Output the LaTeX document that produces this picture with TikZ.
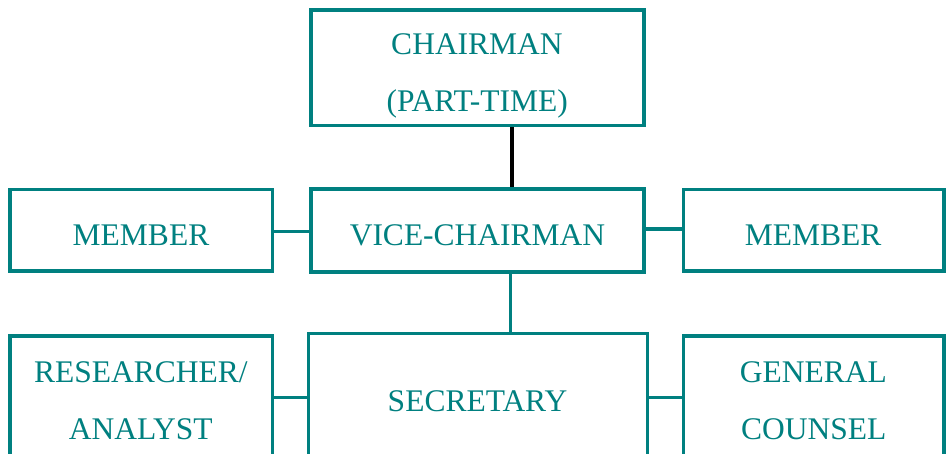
\documentclass[tikz,border=0pt]{standalone}
\usepackage{fontspec}
\setmainfont{Liberation Serif}
\definecolor{teal1}{HTML}{008080}
\begin{document}
\begin{tikzpicture}[x=1pt,y=-1pt,
  box/.style={draw=teal1, line width=3.6pt, rectangle, inner sep=0pt},
  lbl/.style={text=teal1, anchor=base, inner sep=0pt, font=\fontsize{31.5}{31.5}\selectfont},
  tealline/.style={draw=teal1, line width=3.6pt},
  blackline/.style={draw=black, line width=3.6pt}]
\useasboundingbox (0,0) rectangle (950,454);
\clip (0,0) rectangle (950,454);
\fill[white] (0,0) rectangle (950,454);
% boxes
\node[box, minimum width=333pt, minimum height=115.4pt] (chair) at (477.5,68) {};
\node[box, minimum width=333pt, minimum height=83pt] (vice) at (477.5,230.8) {};
\node[box, minimum width=262.7pt, minimum height=81.7pt] (mleft) at (141.3,230.2) {};
\node[box, minimum width=260.7pt, minimum height=81.7pt] (mright) at (813.7,230.2) {};
\node[box, minimum width=262.7pt, minimum height=144pt] (res) at (141.3,408) {};
\node[box, minimum width=339pt, minimum height=146.7pt] (sec) at (477.8,406.7) {};
\node[box, minimum width=260.7pt, minimum height=144pt] (coun) at (813.7,408) {};
% texts
\node[lbl] (t1) at (477,55) {CHAIRMAN};
\node[lbl] (t2) at (477.2,111.7) {(PART-TIME)};
\node[lbl] (t3) at (477.5,245.7) {VICE-CHAIRMAN};
\node[lbl] (t4) at (141,245.7) {MEMBER};
\node[lbl] (t5) at (813,245.3) {MEMBER};
\node[lbl] (t6) at (140.8,382.7) {RESEARCHER/};
\node[lbl] (t7) at (140.8,439) {ANALYST};
\node[lbl] (t8) at (477.5,411.7) {SECRETARY};
\node[lbl] (t9) at (813.3,382.7) {GENERAL};
\node[lbl] (t10) at (813.7,439) {COUNSEL};
% connectors
\coordinate (cx1) at (512,0);
\coordinate (cx2) at (510.3,0);
\coordinate (cy1) at (0,231.7);
\coordinate (cy2) at (0,229.3);
\coordinate (cy3) at (0,397.3);
\draw[blackline] (chair.south -| cx1) -- (vice.north -| cx1);
\draw[tealline] (vice.south -| cx2) -- (sec.north -| cx2);
\draw[tealline] (mleft.east |- cy1) -- (vice.west |- cy1);
\draw[tealline] (vice.east |- cy2) -- (mright.west |- cy2);
\draw[tealline] (res.east |- cy3) -- (sec.west |- cy3);
\draw[tealline] (sec.east |- cy3) -- (coun.west |- cy3);
\end{tikzpicture}
\end{document}
